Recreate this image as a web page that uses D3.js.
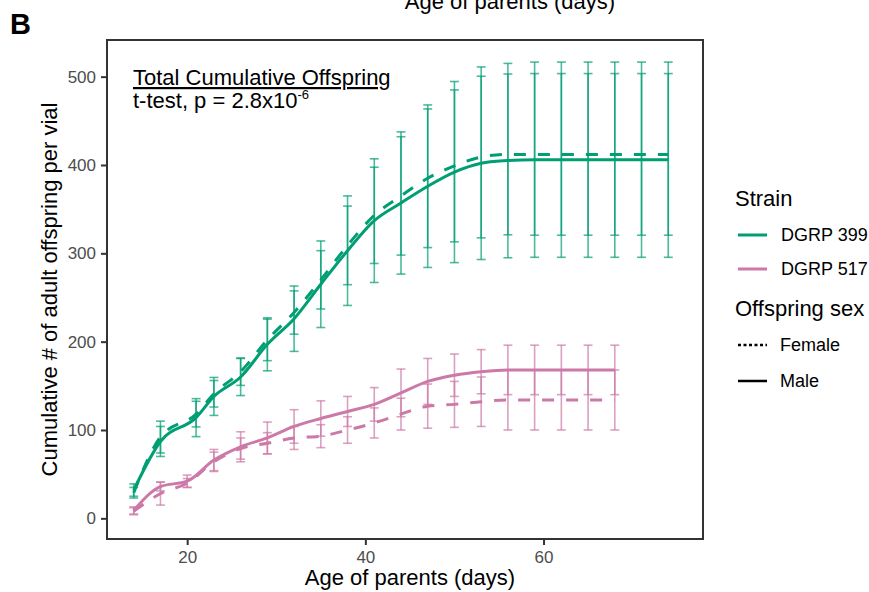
<!DOCTYPE html>
<html>
  <head>
    <script src="https://d3js.org/d3.v7.min.js"></script>
    <style>
      body { margin: 0; background: #fff; }
      text { font-family: "Liberation Sans", Arial, sans-serif; }
    </style>
  </head>
  <body>
  <div id="chart"></div>
  <script type="text/javascript">

var w = 869,
    h = 592;

// days each strain was scored
var days399 = [14, 17, 21, 23, 26, 29, 32, 35, 38, 41, 44, 47, 50, 53, 56, 59, 62, 65, 68, 71, 74];
var days517 = [14, 17, 20, 23, 26, 29, 32, 35, 38, 41, 44, 47, 50, 53, 56, 59, 62, 65, 68];

// mean cumulative offspring and half error bar
var male399 = [32, 87, 114, 138, 160, 197, 226, 265, 303, 337, 357, 376, 392, 402, 405, 406, 406, 406, 406, 406, 406];
var male399Err = [7, 17, 21.5, 21.5, 21, 30, 37, 49, 62, 70, 80.5, 92, 102.5, 109, 110, 110.5, 110.5, 110.5, 110.5, 110.5, 110.5];
var female399 = [29, 92, 118, 141, 166, 202, 233, 270, 309, 343, 365, 385, 399, 409, 412, 412, 412, 412, 412, 412, 412];
var female399Err = [6, 18, 14.5, 15, 15.5, 23.5, 24.5, 33, 44.5, 54.5, 67, 78.5, 86, 91.5, 91, 91.5, 91.5, 91.5, 91.5, 91.5, 91.5];

var male517 = [9, 36, 42, 66, 81, 91, 104, 113, 121, 129, 142, 155, 162, 166, 168, 168, 168, 168, 168];
var male517Err = [4, 5, 7, 12, 17, 18, 19, 20, 17, 19, 27, 26, 24, 25, 28, 28, 28, 28, 28];
var female517 = [8, 28, 40, 64, 79, 85, 91, 93, 100, 108, 118, 127, 129, 132, 134, 134, 134, 134, 134];
var female517Err = [4, 13, 5, 11, 12, 12, 13, 13, 15, 17, 18, 25, 26, 28, 34, 34, 34, 34, 34];

var xTicks = [20, 40, 60];
var yTicks = [0, 100, 200, 300, 400, 500];
var strainNames = ["DGRP 399", "DGRP 517"];
var sexNames = ["Female", "Male"];
var strainColors = ["#009E73", "#CC79A7"];

function rows(days, vals, errs) {
  return days.map(function(d, i) { return {day: d, v: vals[i], e: errs[i]}; });
}

var series = [
  {strain: 0, sex: "Female", data: rows(days399, female399, female399Err)},
  {strain: 0, sex: "Male",   data: rows(days399, male399, male399Err)},
  {strain: 1, sex: "Female", data: rows(days517, female517, female517Err)},
  {strain: 1, sex: "Male",   data: rows(days517, male517, male517Err)}
];

// panel edges (window.top is taken, hence the p prefix)
var pLeft = 107, pRight = 703, pTop = 40, pBottom = 539;

var x = d3.scaleLinear().domain([11, 77.9]).range([pLeft, pRight]);
var y = d3.scaleLinear().domain([-23.4, 541.5]).range([pBottom, pTop]);

var svg = d3.select("#chart").append("svg")
    .attr("width", w)
    .attr("height", h);

// panel label and the cut-off title of the panel above
svg.append("text").attr("x", 10).attr("y", 34)
  .attr("font-size", "29px").attr("font-weight", "bold").text("B");
svg.append("text").attr("x", 510).attr("y", 9).attr("text-anchor", "middle")
  .attr("font-size", "22px").text("Age of parents (days)");

var plot = svg.append("g");

// error bars
var capW = 0.5;
series.forEach(function(s) {
  var col = strainColors[s.strain];
  var g = plot.append("g")
    .attr("stroke", col)
    .attr("stroke-opacity", 0.7)
    .attr("stroke-width", 1.6)
    .attr("fill", "none");
  var bars = g.selectAll("g").data(s.data).enter().append("g");
  bars.append("line")
    .attr("x1", function(d) { return x(d.day); })
    .attr("x2", function(d) { return x(d.day); })
    .attr("y1", function(d) { return y(d.v - d.e); })
    .attr("y2", function(d) { return y(d.v + d.e); });
  bars.append("line")
    .attr("x1", function(d) { return x(d.day - capW); })
    .attr("x2", function(d) { return x(d.day + capW); })
    .attr("y1", function(d) { return y(d.v + d.e); })
    .attr("y2", function(d) { return y(d.v + d.e); });
  bars.append("line")
    .attr("x1", function(d) { return x(d.day - capW); })
    .attr("x2", function(d) { return x(d.day + capW); })
    .attr("y1", function(d) { return y(d.v - d.e); })
    .attr("y2", function(d) { return y(d.v - d.e); });
});

// mean lines
var line = d3.line()
  .x(function(d) { return x(d.day); })
  .y(function(d) { return y(d.v); })
  .curve(d3.curveMonotoneX);

series.forEach(function(s) {
  plot.append("path")
    .datum(s.data)
    .attr("d", line)
    .attr("fill", "none")
    .attr("stroke", strainColors[s.strain])
    .attr("stroke-width", 3)
    .attr("stroke-dasharray", s.sex == "Female" ? "12,12" : null);
});

// panel border
svg.append("rect")
  .attr("x", pLeft).attr("y", pTop)
  .attr("width", pRight - pLeft).attr("height", pBottom - pTop)
  .attr("fill", "none").attr("stroke", "#333").attr("stroke-width", 2);

// axes
var xAxis = svg.append("g").attr("transform", "translate(0," + (pBottom + 1) + ")")
  .call(d3.axisBottom(x).tickValues(xTicks).tickSize(5).tickPadding(6));
var yAxis = svg.append("g").attr("transform", "translate(" + (pLeft - 1) + ",0)")
  .call(d3.axisLeft(y).tickValues(yTicks).tickSize(5).tickPadding(5));
[xAxis, yAxis].forEach(function(a) {
  a.select(".domain").remove();
  a.selectAll("line").attr("stroke", "#333").attr("stroke-width", 2);
  a.selectAll("text").attr("fill", "#4d4d4d").attr("font-size", "17px")
    .attr("font-family", '"Liberation Sans", Arial, sans-serif');
});

svg.append("text").attr("x", 410).attr("y", 585)
  .attr("text-anchor", "middle").attr("font-size", "22px")
  .text("Age of parents (days)");
svg.append("text")
  .attr("transform", "translate(57," + ((pTop + pBottom) / 2) + ") rotate(-90)")
  .attr("text-anchor", "middle").attr("font-size", "22px")
  .text("Cumulative # of adult offspring per vial");

// annotation
svg.append("text").attr("x", 133).attr("y", 85)
  .attr("font-size", "22px").attr("text-decoration", "underline")
  .text("Total Cumulative Offspring");
var pt = svg.append("text").attr("x", 133).attr("y", 108).attr("font-size", "22px");
pt.append("tspan").text("t-test, p = 2.8x10");
pt.append("tspan").attr("dy", -9).attr("font-size", "13px").text("-6");

// legend
var leg = svg.append("g");
leg.append("text").attr("x", 735).attr("y", 206).attr("font-size", "22px").text("Strain");
strainNames.forEach(function(n, i) {
  var yy = 235 + i * 34;
  leg.append("line").attr("x1", 738).attr("x2", 767).attr("y1", yy).attr("y2", yy)
    .attr("stroke", strainColors[i]).attr("stroke-width", 3);
  leg.append("text").attr("x", 781).attr("y", yy + 6).attr("font-size", "18px").text(n);
});
leg.append("text").attr("x", 735).attr("y", 316).attr("font-size", "22px").text("Offspring sex");
sexNames.forEach(function(n, i) {
  var yy = 345 + i * 36;
  leg.append("line").attr("x1", 738).attr("x2", 767).attr("y1", yy).attr("y2", yy)
    .attr("stroke", "#000").attr("stroke-width", 2.5)
    .attr("stroke-dasharray", n == "Female" ? "3,2.5" : null);
  leg.append("text").attr("x", 780).attr("y", yy + 6).attr("font-size", "18px").text(n);
});

  </script>
  </body>
</html>
